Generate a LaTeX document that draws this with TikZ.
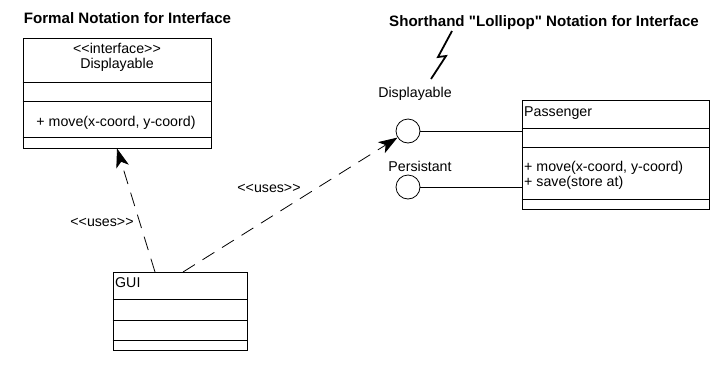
\documentclass[tikz,border=0pt]{standalone}
\usepackage{fontspec}
\newfontfamily\uml{Liberation Sans}
\usetikzlibrary{arrows.meta}
\tikzset{
  classbox/.style={draw, line width=0.8pt, rectangle, inner sep=0pt},
  lolli/.style={draw, line width=0.8pt, circle, minimum size=24pt, inner sep=0pt},
  txt/.style={inner sep=0pt, font=\uml\fontsize{14.2}{17}\selectfont},
  ttl/.style={inner sep=0pt, font=\uml\bfseries\fontsize{15.1}{18}\selectfont},
  sep/.style={line width=0.8pt},
  uses/.style={line width=0.8pt, dash pattern=on 14pt off 9pt, -{Stealth[length=19pt, width=13pt, inset=5pt]}},
  bolt/.style={line width=1.8pt, line join=miter}
}
\begin{document}
\begin{tikzpicture}[x=1pt, y=-1pt]
\useasboundingbox (0,0) rectangle (717,373);
% titles
\node[ttl, anchor=base] (t1) at (127.5,23.5) {Formal Notation for Interface};
\node[ttl, anchor=base] (t2) at (544,26) {Shorthand "Lollipop" Notation for Interface};
% interface box
\node[classbox, minimum width=188pt, minimum height=110pt] (iface) at (117,93) {};
\draw[sep] (iface.west |- 0,82) -- (iface.east |- 0,82);
\draw[sep] (iface.west |- 0,101) -- (iface.east |- 0,101);
\draw[sep] (iface.west |- 0,137) -- (iface.east |- 0,137);
\node[txt, anchor=base] (istereo) at (117,53) {<<interface>>};
\node[txt, anchor=base] (iname) at (117,68) {Displayable};
\node[txt, anchor=base] (iop) at (116,126) {+ move(x-coord, y-coord)};
% GUI box
\node[classbox, minimum width=134pt, minimum height=78pt] (gui) at (180,311) {};
\draw[sep] (gui.west |- 0,299) -- (gui.east |- 0,299);
\draw[sep] (gui.west |- 0,320) -- (gui.east |- 0,320);
\draw[sep] (gui.west |- 0,340) -- (gui.east |- 0,340);
\node[txt, anchor=base west] (guiname) at (115,287) {GUI};
% Passenger box
\node[classbox, minimum width=187pt, minimum height=109pt] (pass) at (615.5,154.5) {};
\draw[sep] (pass.west |- 0,128) -- (pass.east |- 0,128);
\draw[sep] (pass.west |- 0,147) -- (pass.east |- 0,147);
\draw[sep] (pass.west |- 0,199) -- (pass.east |- 0,199);
\node[txt, anchor=base west] (pname) at (524,116) {Passenger};
\node[txt, anchor=base west] (pop1) at (524,171) {+ move(x-coord, y-coord)};
\node[txt, anchor=base west] (pop2) at (524,186) {+ save(store at)};
% lollipops
\node[lolli] (dispc) at (408,131) {};
\node[lolli] (persc) at (408,187) {};
\node[txt, anchor=base] (displbl) at (415,97) {Displayable};
\node[txt, anchor=base] (perslbl) at (420,171) {Persistant};
\draw[sep] (dispc.east) -- (pass.west |- dispc.east);
\draw[sep] (persc.east) -- (pass.west |- persc.east);
% lightning bolt
\draw[bolt] (452,31) -- (438,57) -- (446,56) -- (431,79);
% uses dependencies
\coordinate (g1) at (155,272);
\coordinate (g2) at (183,272);
\draw[uses] (g1) -- (iface.south);
\draw[uses] (g2) -- (dispc);
\node[txt, anchor=base] (u1) at (102,226) {<<uses>>};
\node[txt, anchor=base] (u2) at (269,192) {<<uses>>};
\end{tikzpicture}
\end{document}
